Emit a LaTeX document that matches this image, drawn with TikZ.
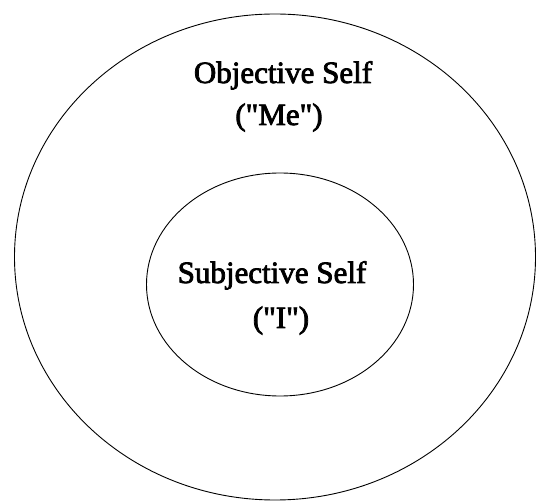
\documentclass[tikz,border=0pt]{standalone}
\usepackage{fontspec}
\setmainfont{Liberation Serif}[Ligatures=TeXOff,FakeBold=2.5]
\usetikzlibrary{shapes.geometric}
\begin{document}
\begin{tikzpicture}[x=1pt,y=-1pt,
  ring/.style={ellipse,draw,line width=0.9pt,inner sep=0pt},
  label/.style={anchor=base,inner sep=0pt,font=\fontsize{31}{36}\selectfont}]
\useasboundingbox (0,0) rectangle (536,502);
\node[ring,minimum width=521pt,minimum height=486pt] (outer) at (275,257) {};
\node[ring,minimum width=267pt,minimum height=223pt] (inner) at (280,284.5) {};
\node[label] (obj) at (283,83) {Objective Self};
\node[label] (me) at (279,125) {("Me")};
\node[label] (subj) at (272,283) {Subjective Self};
\node[label] (i) at (281,328) {("I")};
\end{tikzpicture}
\end{document}
